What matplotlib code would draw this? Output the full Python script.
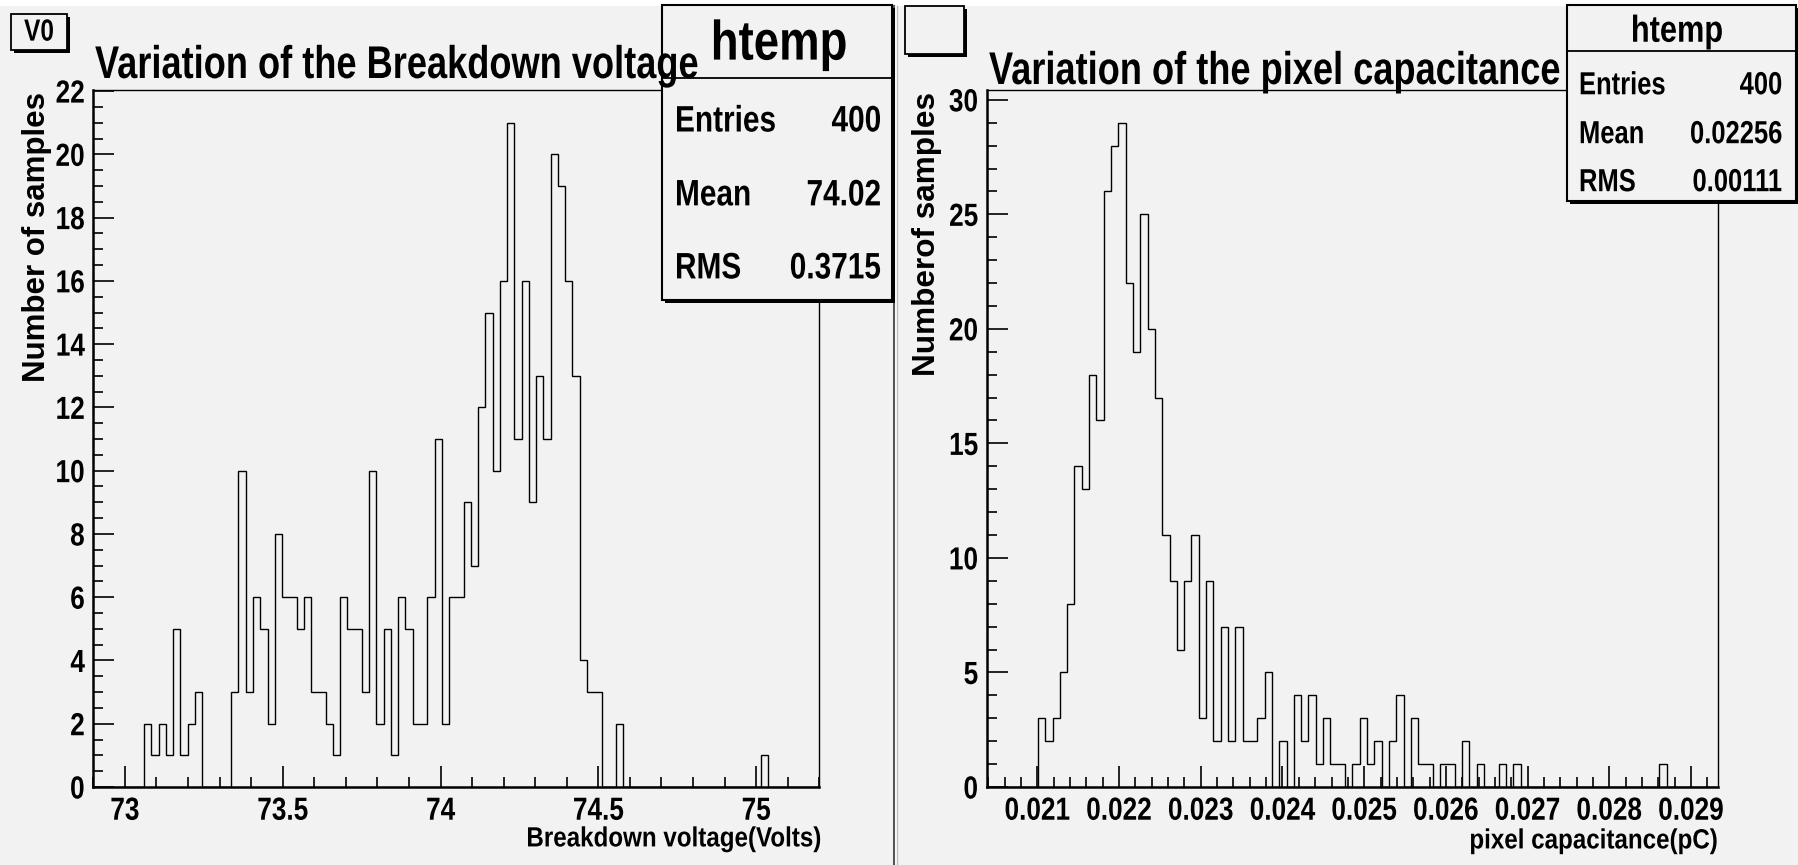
import numpy as np
import matplotlib
matplotlib.use("Agg")
import matplotlib.pyplot as plt
from matplotlib.patches import Rectangle
from matplotlib.lines import Line2D
from matplotlib.patheffects import AbstractPathEffect
from matplotlib.transforms import Affine2D
from matplotlib.ticker import FixedLocator, MultipleLocator

# ---- data (100 bins each) ----
v0_range = (72.9, 75.2)
v0_counts = [0, 0, 0, 0, 0, 0, 0, 2, 1, 2,
             1, 5, 1, 2, 3, 0, 0, 0, 0, 3,
             10, 3, 6, 5, 2, 8, 6, 6, 5, 6,
             3, 3, 2, 1, 6, 5, 5, 3, 10, 2,
             5, 1, 6, 5, 2, 2, 6, 11, 2, 6,
             6, 9, 7, 12, 15, 10, 16, 21, 11, 16,
             9, 13, 11, 20, 19, 16, 13, 4, 3, 3,
             0, 0, 2, 0, 0, 0, 0, 0, 0, 0,
             0, 0, 0, 0, 0, 0, 0, 0, 0, 0,
             0, 0, 1, 0, 0, 0, 0, 0, 0, 0]
v0_xticks = [73, 73.5, 74, 74.5, 75]
v0_xticklabels = ["73", "73.5", "74", "74.5", "75"]
v0_stats = [("Entries", "400"), ("Mean", "74.02"), ("RMS", "0.3715")]

cap_range = (0.02038, 0.02933)
cap_counts = [0, 0, 0, 0, 0, 0, 0, 3, 2, 3,
              5, 8, 14, 13, 18, 16, 26, 28, 29, 22,
              19, 25, 20, 17, 11, 9, 6, 9, 11, 3,
              9, 2, 7, 2, 7, 2, 2, 3, 5, 0,
              2, 0, 4, 2, 4, 1, 3, 1, 1, 0,
              1, 3, 1, 2, 0, 2, 4, 0, 3, 1,
              1, 0, 1, 1, 0, 2, 0, 1, 0, 0,
              1, 0, 1, 0, 0, 0, 0, 0, 0, 0,
              0, 0, 0, 0, 0, 0, 0, 0, 0, 0,
              0, 0, 1, 0, 0, 0, 0, 0, 0, 0]
cap_xticks = [0.021, 0.022, 0.023, 0.024, 0.025, 0.026, 0.027, 0.028, 0.029]
cap_xticklabels = ["0.021", "0.022", "0.023", "0.024", "0.025",
                   "0.026", "0.027", "0.028", "0.029"]
cap_stats = [("Entries", "400"), ("Mean", "0.02256"), ("RMS", "0.00111")]

W, H = 1799, 865
BG = "#f2f2f2"
FONT = ["Liberation Sans", "DejaVu Sans"]


class Narrow(AbstractPathEffect):
    """Squeeze glyphs horizontally (used for tick labels)."""

    def __init__(self, sx=0.8, align="left"):
        super().__init__()
        self.sx = sx
        self.align = align

    def draw_path(self, renderer, gc, tpath, affine, rgbFace=None):
        ext = tpath.get_extents()
        if self.align == "right":
            c = ext.x1
        elif self.align == "center":
            c = 0.5 * (ext.x0 + ext.x1)
        else:
            c = 0.0
        sq = Affine2D().translate(-c, 0).scale(self.sx, 1.0).translate(c, 0)
        renderer.draw_path(gc, tpath, sq + affine, rgbFace)


class Tall(AbstractPathEffect):
    """Stretch glyphs vertically, so a smaller font looks like ROOT's condensed helvetica."""

    def __init__(self, sy=1.25, va="baseline"):
        super().__init__()
        self.sy = sy
        self.va = va

    def draw_path(self, renderer, gc, tpath, affine, rgbFace=None):
        if self.va == "center":
            ext = tpath.get_extents()
            c = 0.5 * (ext.y0 + ext.y1)
        else:
            c = 0.0
        st = Affine2D().translate(0, -c).scale(1.0, self.sy).translate(0, c)
        renderer.draw_path(gc, tpath, st + affine, rgbFace)


def box(x, y, w, h):
    # pixel box (from top-left) -> figure fraction rect
    return [x / W, 1 - (y + h) / H, w / W, h / H]


def fx(x):
    return x / W


def fy(y):
    return 1 - y / H


def ntext(x, y, s, size, sx, ha="left", va="center", z=7):
    # size = apparent height in pt, sx = horizontal squeeze of the glyphs
    return fig.text(fx(x), fy(y), s, family=FONT, weight="bold", fontsize=size * sx,
                    ha=ha, va=va, zorder=z, path_effects=[Tall(1.0 / sx, va)])


fig = plt.figure(figsize=(W / 100, H / 100), dpi=100, facecolor="white")

# pads
for x0, x1 in [(0, 893), (898, 1799)]:
    fig.patches.append(Rectangle((fx(x0), 0), fx(x1 - x0), fy(6), transform=fig.transFigure,
                                 facecolor=BG, edgecolor="none", zorder=-5))
fig.add_artist(Line2D([fx(894), fx(894)], [0, fy(6)], color="#555555", lw=1.5, zorder=-4))
fig.add_artist(Line2D([fx(897), fx(897)], [0, fy(6)], color="#bbbbbb", lw=1.0, zorder=-4))


def framed_box(x, y, w, h, lw=1.3):
    # ROOT style box with a small shadow at right and bottom
    fig.patches.append(Rectangle((fx(x + 3), fy(y + h + 3)), fx(w), h / H, transform=fig.transFigure,
                                 facecolor="black", edgecolor="none", zorder=5))
    fig.patches.append(Rectangle((fx(x), fy(y + h)), fx(w), h / H, transform=fig.transFigure,
                                 facecolor=BG, edgecolor="black", lw=lw, zorder=6))


def hist_panel(rect, counts, xr, ymax, xticks, xticklabels, xminor, ymajor, yminor):
    ax = fig.add_axes(rect, facecolor=BG)
    edges = np.linspace(xr[0], xr[1], len(counts) + 1)
    ax.stairs(counts, edges, baseline=0, color="black", lw=1.0, zorder=3)
    ax.set_xlim(xr)
    ax.set_ylim(0, ymax)
    ax.xaxis.set_major_locator(FixedLocator(xticks))
    ax.set_xticklabels(xticklabels)
    ax.xaxis.set_minor_locator(MultipleLocator(xminor))
    ax.yaxis.set_major_locator(MultipleLocator(ymajor))
    ax.yaxis.set_minor_locator(MultipleLocator(yminor))
    ax.tick_params(which="both", direction="in", top=False, right=False, width=1.2, color="black")
    ax.tick_params(which="major", length=15, labelsize=23)
    ax.tick_params(axis="x", which="major", pad=7)
    ax.tick_params(axis="y", which="major", pad=6)
    ax.tick_params(which="minor", length=7)
    for lab in ax.get_xticklabels():
        lab.set_family(FONT)
        lab.set_weight("bold")
        lab.set_path_effects([Narrow(0.82, "center")])
    for lab in ax.get_yticklabels():
        lab.set_family(FONT)
        lab.set_weight("bold")
        lab.set_path_effects([Narrow(0.82, "right")])
    for s in ["left", "bottom"]:
        ax.spines[s].set_linewidth(1.8)
    for s in ["top", "right"]:
        ax.spines[s].set_linewidth(1.0)
    return ax


# ---- left: breakdown voltage ----
hist_panel(box(93.3, 89.5, 726, 697.5), v0_counts, v0_range, 22.05,
           v0_xticks, v0_xticklabels, 0.1, 2, 0.5)
ntext(95, 78, "Variation of the Breakdown voltage", 33, 0.79, va="baseline", z=8)
fig.text(fx(37), fy(92), "Number of samples", family=FONT, weight="bold", fontsize=22.5,
         rotation=90, ha="center", va="top")
ntext(821, 839, "Breakdown voltage(Volts)", 20, 0.87, ha="right")

framed_box(11, 14, 56, 36)
ntext(39, 32, "V0", 22, 0.8, ha="center")

framed_box(662, 5, 230, 295, lw=1.5)
fig.add_artist(Line2D([fx(662), fx(892)], [fy(78), fy(78)], color="black", lw=1.3, zorder=7))
ntext(779, 45, "htemp", 40, 0.82, ha="center")
for (lab, val), yy in zip(v0_stats, [121, 195, 268]):
    ntext(675, yy, lab, 26.5, 0.81)
    ntext(881, yy, val, 26.5, 0.81, ha="right")

# ---- right: pixel capacitance ----
hist_panel(box(986.7, 89.5, 731.3, 697.5), cap_counts, cap_range, 30.45,
           cap_xticks, cap_xticklabels, 0.0002, 5, 1)
ntext(989, 84, "Variation of the pixel capacitance", 33, 0.79, va="baseline", z=8)
fig.text(fx(927), fy(92), "Numberof samples", family=FONT, weight="bold", fontsize=22.7,
         rotation=90, ha="center", va="top")
ntext(1718, 841, "pixel capacitance(pC)", 20, 0.87, ha="right")

framed_box(905, 6, 59, 48)

framed_box(1567, 5, 229, 196, lw=1.5)
fig.add_artist(Line2D([fx(1567), fx(1796)], [fy(50.5), fy(50.5)], color="black", lw=1.3, zorder=7))
ntext(1677, 32, "htemp", 27, 0.82, ha="center")
for (lab, val), yy in zip(cap_stats, [85, 134, 182]):
    ntext(1579, yy, lab, 23, 0.8)
    ntext(1782, yy, val, 23, 0.8, ha="right")

fig.savefig("out.png", dpi=100, facecolor="white")
